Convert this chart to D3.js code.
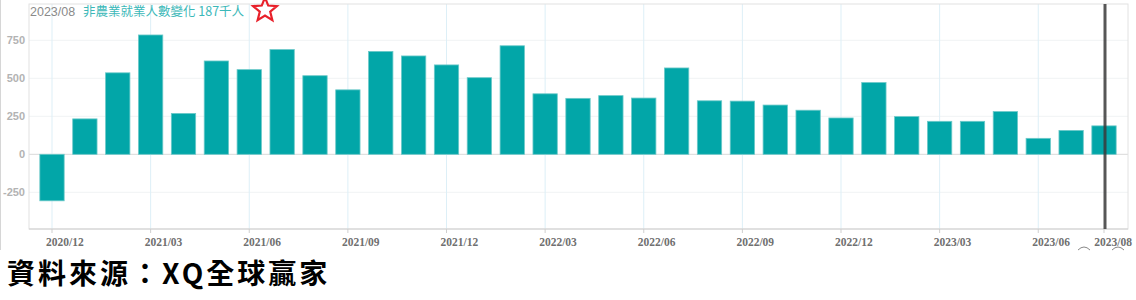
<!DOCTYPE html>
<html><head><meta charset="utf-8">
<script src="https://cdn.jsdelivr.net/npm/d3@7"></script>
<style>
html,body{margin:0;padding:0;background:#fff;}
svg{display:block;}
</style></head>
<body>
<svg id="c" width="1136" height="300"></svg>
<script>
const months = ["2020/12","2021/01","2021/02","2021/03","2021/04","2021/05","2021/06","2021/07","2021/08","2021/09","2021/10","2021/11","2021/12","2022/01","2022/02","2022/03","2022/04","2022/05","2022/06","2022/07","2022/08","2022/09","2022/10","2022/11","2022/12","2023/01","2023/02","2023/03","2023/04","2023/05","2023/06","2023/07","2023/08"];
const values = [-306,233,536,785,269,614,557,689,517,424,677,647,588,504,714,398,368,386,370,568,352,350,324,290,239,472,248,217,217,281,105,157,187];
const xTickLabels = ["2020/12","2021/03","2021/06","2021/09","2021/12","2022/03","2022/06","2022/09","2022/12","2023/03","2023/06","2023/08"];
const yTicks = [-250,0,250,500,750];
const headerDate = "2023/08";
const headerText = "非農業就業人數變化 187千人";
const sourceText = "資料來源：XQ全球贏家";

const svg = d3.select("#c");
const L = 29, R = 1128, T = 4, B = 229;
const n = months.length;
const step = (1104 - 52) / (n - 1);
const x = d3.scaleBand().domain(months)
  .range([52 - step/2, 1104 + step/2]).paddingInner(0.26).paddingOuter(0.13);
const y = d3.scaleLinear().domain([-250, 750]).range([192.3, 40.3]);
const cx = m => x(m) + x.bandwidth()/2;

// outer left frame line
svg.append("line").attr("x1",0.5).attr("x2",0.5).attr("y1",0).attr("y2",250)
  .attr("stroke","#d6d6d6").attr("stroke-width",1);

// horizontal gridlines
svg.append("g").selectAll("line").data(yTicks).join("line")
  .attr("x1",L).attr("x2",R).attr("y1",d=>y(d)).attr("y2",d=>y(d))
  .attr("stroke", d => d===0 ? "#d9d9d9" : "#f1f3f4").attr("stroke-width",1);

// vertical gridlines
svg.append("g").selectAll("line").data(xTickLabels.filter(d=>d!=="2023/08")).join("line")
  .attr("x1",d=>cx(d)).attr("x2",d=>cx(d)).attr("y1",T).attr("y2",B)
  .attr("stroke","#ddeff7").attr("stroke-width",1);

// frame
svg.append("rect").attr("x",L).attr("y",T).attr("width",R-L).attr("height",B-T)
  .attr("fill","none").attr("stroke","#e2e2e2").attr("stroke-width",1);
svg.append("line").attr("x1",L).attr("x2",R).attr("y1",B).attr("y2",B)
  .attr("stroke","#cfcfcf").attr("stroke-width",1.2);

// bars
svg.append("g").selectAll("rect").data(values).join("rect")
  .attr("x",(d,i)=>x(months[i]))
  .attr("width",x.bandwidth())
  .attr("y",d=>Math.min(y(d),y(0)))
  .attr("height",d=>Math.abs(y(d)-y(0)))
  .attr("fill","#02a6a8").attr("stroke","#6cc9c9").attr("stroke-width",0.8);

// x ticks + labels
const xt = svg.append("g").selectAll("g").data(xTickLabels).join("g");
xt.append("line").attr("x1",d=>cx(d)).attr("x2",d=>cx(d)).attr("y1",B).attr("y2",B+4)
  .attr("stroke","#cfcfcf");
xt.append("text")
  .attr("x",(d,i)=> i===xTickLabels.length-1 ? 1132 : cx(d)-6)
  .attr("text-anchor",(d,i)=> i===xTickLabels.length-1 ? "end" : "start")
  .attr("y",246)
  .attr("font-family","'Liberation Serif','DejaVu Serif',serif").attr("font-size",11.5)
  .attr("font-weight","bold").attr("fill","#707070").text(d=>d);

// y labels
svg.append("g").selectAll("text").data(yTicks).join("text")
  .attr("x",25).attr("y",d=>y(d)+4).attr("text-anchor","end")
  .attr("font-family","'Liberation Sans',Arial,sans-serif").attr("font-size",11)
  .attr("font-weight","bold").attr("fill","#b3b3b3").text(d=>d);

// cursor line
svg.append("line").attr("x1",cx("2023/08")+1).attr("x2",cx("2023/08")+1).attr("y1",T).attr("y2",B)
  .attr("stroke","#3a3a3a").attr("stroke-opacity",0.85).attr("stroke-width",3);

// header
svg.append("text").attr("x",30).attr("y",16)
  .attr("font-family","'Liberation Sans',Arial,sans-serif").attr("font-size",12.5)
  .attr("fill","#8a8a8a").text(headerDate);
svg.append("text").attr("x",83).attr("y",16)
  .attr("font-family","'Noto Sans CJK TC','Liberation Sans',sans-serif").attr("font-size",12.5)
  .attr("fill","#3bb8b8").text(headerText);

// star
const starPts = d3.range(10).map(i=>{
  const r = i%2===0 ? 12.5 : 5.5;
  const a = -Math.PI/2 + i*Math.PI/5;
  return [265 + r*Math.cos(a), 10 + r*Math.sin(a)];
});
svg.append("polygon").attr("points",starPts.map(p=>p.join(",")).join(" "))
  .attr("fill","none").attr("stroke","#e8202a").attr("stroke-width",2.2).attr("stroke-linejoin","miter");

// small artifacts near bottom right
svg.append("path").attr("d","M1078,250 Q1084,244 1090,250").attr("fill","none").attr("stroke","#888").attr("stroke-width",1);
svg.append("path").attr("d","M1112,250 Q1118,244 1124,250").attr("fill","none").attr("stroke","#888").attr("stroke-width",1);

// source text
svg.append("text").attr("x",7).attr("y",284)
  .attr("font-family","'Noto Sans CJK TC',sans-serif").attr("font-size",28)
  .attr("font-weight","bold").attr("letter-spacing",3).attr("fill","#000").text(sourceText);
</script>
</body></html>
